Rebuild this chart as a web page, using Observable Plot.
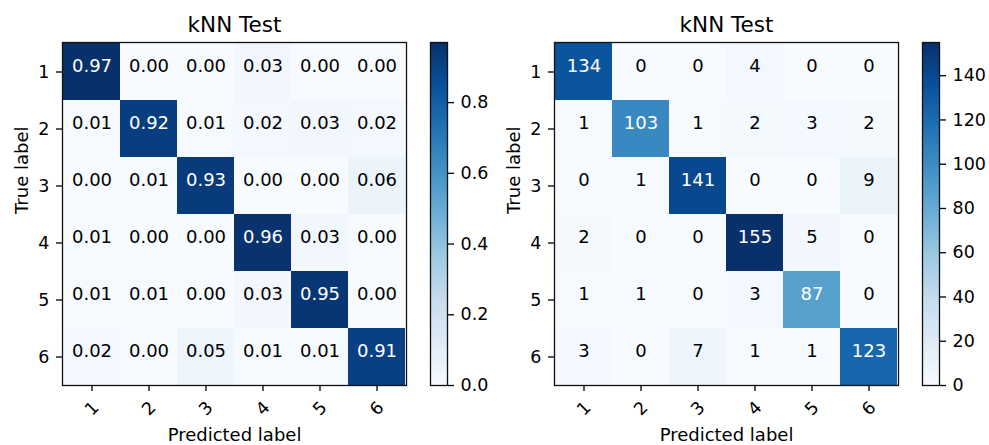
<!DOCTYPE html>
<html>
<head>
<meta charset="utf-8">
<script src="https://cdn.jsdelivr.net/npm/d3@7"></script>
<script src="https://cdn.jsdelivr.net/npm/@observablehq/plot@0.6"></script>
<style>
  body { margin: 0; background: #fff; }
  #fig { position: relative; width: 989px; height: 445px; overflow: hidden; }
  #fig svg { position: absolute; top: 0; overflow: visible; }
</style>
</head>
<body>
<div id="fig"></div>
<script>
// Class labels (rows = true label, columns = predicted label)
const classes = ["1", "2", "3", "4", "5", "6"];

// Row-normalized confusion matrix
const normalized = [
  [0.97, 0.00, 0.00, 0.03, 0.00, 0.00],
  [0.01, 0.92, 0.01, 0.02, 0.03, 0.02],
  [0.00, 0.01, 0.93, 0.00, 0.00, 0.06],
  [0.01, 0.00, 0.00, 0.96, 0.03, 0.00],
  [0.01, 0.01, 0.00, 0.03, 0.95, 0.00],
  [0.02, 0.00, 0.05, 0.01, 0.01, 0.91]
];

// Raw counts confusion matrix
const counts = [
  [134,   0,   0,   4,   0,   0],
  [  1, 103,   1,   2,   3,   2],
  [  0,   1, 141,   0,   0,   9],
  [  2,   0,   0, 155,   5,   0],
  [  1,   1,   0,   3,  87,   0],
  [  3,   0,   7,   1,   1, 123]
];

const normTicks = [0, 0.2, 0.4, 0.6, 0.8];
const countTicks = [0, 20, 40, 60, 80, 100, 120, 140];

const title = "kNN Test";
const xLabel = "Predicted label";
const yLabel = "True label";

// ColorBrewer Blues, interpolated linearly between stops
const bluesStops = ["#f7fbff", "#deebf7", "#c6dbef", "#9ecae1", "#6baed6",
                    "#4292c6", "#2171b5", "#08519c", "#08306b"];
const blues = d3.piecewise(d3.interpolateRgb, bluesStops);

const FONT = "DejaVu Sans, sans-serif";
const fig = document.getElementById("fig");

function place(svg, left) {
  svg.style.left = left + "px";
  fig.appendChild(svg);
}

function matrixPlot(values, fmt, left, width, marginLeft) {
  const max = d3.max(values.flat());
  const cells = values.flatMap((row, i) =>
    row.map((v, j) => ({truth: classes[i], pred: classes[j], v}))
  );
  const dark = cells.filter(d => d.v > max / 2);
  const light = cells.filter(d => d.v <= max / 2);
  const svg = Plot.plot({
    width,
    height: 445,
    marginLeft,
    marginRight: 14,
    marginTop: 42,
    marginBottom: 60,
    style: {fontFamily: FONT, fontSize: "17.5px", color: "#000", background: "transparent"},
    x: {domain: classes, padding: 0, label: null},
    y: {domain: classes, padding: 0, label: null},
    color: {type: "linear", domain: [0, max], interpolate: blues},
    marks: [
      Plot.cell(cells, {x: "pred", y: "truth", fill: "v", inset: 0, shapeRendering: "crispEdges"}),
      Plot.text(light, {x: "pred", y: "truth", text: d => fmt(d.v), fill: "black", fontSize: 18, lineAnchor: "bottom"}),
      Plot.text(dark, {x: "pred", y: "truth", text: d => fmt(d.v), fill: "white", fontSize: 18, lineAnchor: "bottom"}),
      Plot.frame({stroke: "#111", strokeWidth: 1.3}),
      Plot.axisY({tickSize: 6, tickPadding: 7, strokeWidth: 1.3, fontSize: 17.5, label: null}),
      Plot.axisX({tickSize: 6, tickPadding: 17, tickRotate: -45, textAnchor: "middle", lineAnchor: "middle",
                  strokeWidth: 1.3, fontSize: 17.5, label: null}),
      Plot.text([title], {frameAnchor: "top", dy: -11, lineAnchor: "bottom", fontSize: 21.5, fill: "black"}),
      Plot.text([xLabel], {frameAnchor: "bottom", dy: 55.5, lineAnchor: "bottom", fontSize: 18, fill: "black"}),
      Plot.text([yLabel], {frameAnchor: "left", dx: -35, rotate: -90, lineAnchor: "bottom", fontSize: 18, fill: "black"})
    ]
  });
  place(svg, left);
}

function colorbar(values, ticks, fmt, left, width) {
  const max = d3.max(values.flat());
  const n = 256;
  const steps = d3.range(n).map(i => ({a: (i / n) * max, b: ((i + 1) / n) * max, m: ((i + 0.5) / n) * max}));
  const svg = Plot.plot({
    width,
    height: 445,
    marginLeft: 10,
    marginRight: width - 27,
    marginTop: 42,
    marginBottom: 60,
    style: {fontFamily: FONT, fontSize: "17.5px", color: "#000", background: "transparent"},
    y: {domain: [0, max], label: null},
    color: {type: "linear", domain: [0, max], interpolate: blues},
    marks: [
      Plot.rect(steps, {y1: "a", y2: "b", fill: "m", insetTop: -0.3, insetBottom: -0.3, shapeRendering: "crispEdges"}),
      Plot.frame({stroke: "#111", strokeWidth: 1.3}),
      Plot.axisY(ticks, {anchor: "right", tickSize: 6, tickPadding: 7, strokeWidth: 1.3,
                         fontSize: 17.5, tickFormat: fmt, label: null})
    ]
  });
  place(svg, left);
}

matrixPlot(normalized, d3.format(".2f"), 0, 420, 62);
colorbar(normalized, normTicks, d3.format(".1f"), 420, 80);
matrixPlot(counts, d3.format("d"), 490, 422, 64);
colorbar(counts, countTicks, d3.format("d"), 912, 77);
</script>
</body>
</html>
